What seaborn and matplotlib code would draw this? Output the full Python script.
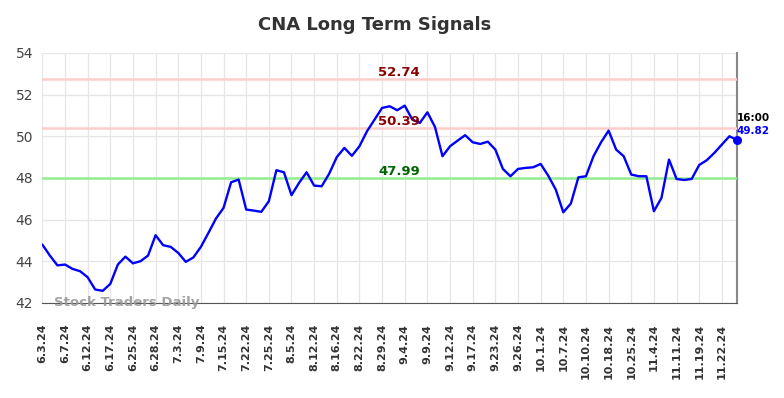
import numpy as np
import pandas as pd
import seaborn as sns
import matplotlib.pyplot as plt
import matplotlib.transforms as mtransforms

# closing prices (one every ~2 trading days)
precos = [44.80, 44.27, 43.80, 43.84, 43.63, 43.52, 43.23, 42.64, 42.58, 42.91,
          43.84, 44.22, 43.90, 44.00, 44.27, 45.25, 44.77, 44.69, 44.40, 43.97,
          44.18, 44.69, 45.36, 46.05, 46.56, 47.79, 47.92, 46.48, 46.43, 46.37,
          46.88, 48.37, 48.27, 47.17, 47.76, 48.27, 47.63, 47.60, 48.21, 49.00,
          49.44, 49.06, 49.52, 50.24, 50.80, 51.36, 51.44, 51.25, 51.47, 50.80,
          50.64, 51.15, 50.45, 49.04, 49.52, 49.79, 50.05, 49.71, 49.63, 49.74,
          49.36, 48.43, 48.08, 48.43, 48.48, 48.51, 48.67, 48.11, 47.44, 46.35,
          46.77, 48.03, 48.08, 49.04, 49.71, 50.27, 49.36, 49.04, 48.16, 48.08,
          48.08, 46.40, 47.04, 48.88, 47.95, 47.90, 47.95, 48.62, 48.85, 49.20,
          49.60, 50.00, 49.82]

datas = ['6.3.24', '6.7.24', '6.12.24', '6.17.24', '6.25.24', '6.28.24', '7.3.24',
         '7.9.24', '7.15.24', '7.22.24', '7.25.24', '8.5.24', '8.12.24', '8.16.24',
         '8.22.24', '8.29.24', '9.4.24', '9.9.24', '9.12.24', '9.17.24', '9.23.24',
         '9.26.24', '10.1.24', '10.7.24', '10.10.24', '10.18.24', '10.25.24',
         '11.4.24', '11.11.24', '11.19.24', '11.22.24']

resistencias = [52.74, 50.39]
suporte = 47.99
ultimo_preco = 49.82
hora = '16:00'

df = pd.DataFrame({'idx': range(len(precos)), 'preco': precos})

sns.set_style('white')
fig = plt.figure(figsize=(7.84, 3.98), dpi=100)
ax = fig.add_axes([0.054, 0.239, 0.886, 0.628])

sns.lineplot(data=df, x='idx', y='preco', color='#0000ff', linewidth=1.7, ax=ax, zorder=5)
ax.scatter([df['idx'].iloc[-1]], [df['preco'].iloc[-1]], color='#0000ff', s=30, zorder=6,
           clip_on=False)

for r in resistencias:
    ax.axhline(r, color='#ffcccc', linewidth=1.8, zorder=3)
ax.axhline(suporte, color='#90ee90', linewidth=1.8, zorder=3)

trans = mtransforms.blended_transform_factory(ax.transAxes, ax.transData)
for r in resistencias:
    ax.text(0.514, r + 0.0, f'{r:.2f}', transform=trans, ha='center', va='bottom',
            color='#8b0000', fontsize=9.5, fontweight='bold', zorder=7)
ax.text(0.514, suporte + 0.0, f'{suporte:.2f}', transform=trans, ha='center', va='bottom',
        color='#006400', fontsize=9.5, fontweight='bold', zorder=7)

ax.text(1.0, 50.9, hora, transform=trans, ha='left', va='center', color='black',
        fontsize=7.5, fontweight='bold')
ax.text(1.0, 50.25, f'{ultimo_preco:.2f}', transform=trans, ha='left', va='center',
        color='#0000ff', fontsize=7.5, fontweight='bold')

ax.text(0.017, 0.0, 'Stock Traders Daily', transform=ax.transAxes, ha='left', va='center',
        color='#999999', fontsize=9.5, fontweight='bold', alpha=0.9, zorder=8)

ax.set_xlim(0, len(precos) - 1)
ax.set_ylim(42, 54)
ax.set_yticks(range(42, 55, 2))
ax.set_xticks(range(0, 3 * len(datas), 3))
ax.set_xticklabels(datas, rotation=90, fontsize=8, fontweight='bold', color='#333333')
ax.tick_params(axis='y', labelsize=10, labelcolor='#444444', length=3, color='#e6e6e6')
ax.tick_params(axis='x', length=0, pad=15)
ax.grid(True, color='#e6e6e6', linewidth=0.9)
ax.set_xlabel('')
ax.set_ylabel('')

for lado in ['left', 'top']:
    ax.spines[lado].set_visible(False)
ax.spines['bottom'].set_color('#555555')
ax.spines['right'].set_color('#888888')
ax.spines['right'].set_linewidth(1.5)

fig.suptitle('CNA Long Term Signals', x=0.478, y=0.96, fontsize=13, fontweight='bold', color='#333333')

plt.savefig('out.png', dpi=100)
